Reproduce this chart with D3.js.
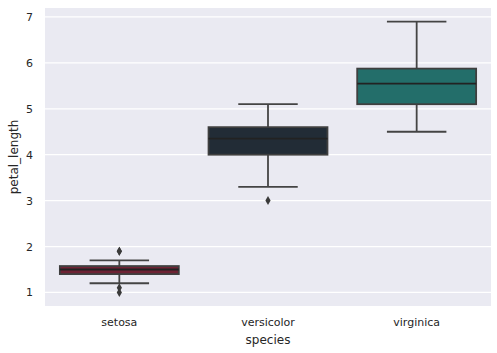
<!DOCTYPE html>
<html>
<head>
<meta charset="utf-8">
<script src="https://cdn.jsdelivr.net/npm/d3@7"></script>
<style>
  body { margin: 0; background: #fff; }
  text { font-family: "DejaVu Sans", sans-serif; fill: #262626; }
</style>
</head>
<body>
<div id="chart"></div>
<script>
// box statistics (iris petal_length)
var species = ["setosa", "versicolor", "virginica"];
var q1 = [1.4, 4.0, 5.1];
var medians = [1.5, 4.35, 5.55];
var q3 = [1.575, 4.6, 5.875];
var whiskerLow = [1.2, 3.3, 4.5];
var whiskerHigh = [1.7, 5.1, 6.9];
var outliers = [[1.0, 1.1, 1.9, 1.9], [3.0], []];
var fills = ["#6e2334", "#222c36", "#236e6a"];
var yTicks = [1, 2, 3, 4, 5, 6, 7];

var margin = {top: 8, right: 6, bottom: 47, left: 45},
    width = 497 - margin.left - margin.right,
    height = 353 - margin.top - margin.bottom;

var svg = d3.select("#chart")
    .append("svg")
    .attr("width", 497)
    .attr("height", 353)
    .append("g")
    .attr("transform", "translate(" + margin.left + "," + margin.top + ")");

var x = d3.scaleBand()
    .domain(species)
    .range([0, width]);

var y = d3.scaleLinear()
    .domain([0.705, 7.195])
    .range([height, 0]);

// background + grid
svg.append("rect")
    .attr("width", width)
    .attr("height", height)
    .attr("fill", "#eaeaf2");

svg.selectAll(".grid")
    .data(yTicks)
    .enter()
    .append("line")
    .attr("x1", 0)
    .attr("x2", width)
    .attr("y1", function (d) { return y(d); })
    .attr("y2", function (d) { return y(d); })
    .attr("stroke", "#fff")
    .attr("stroke-width", 1.2);

var yAxis = svg.append("g")
    .call(d3.axisLeft(y).tickValues(yTicks).tickSize(0).tickPadding(12).tickFormat(d3.format("d")));
yAxis.select(".domain").remove();
yAxis.selectAll("text").style("font-size", "11px").attr("fill", "#262626");

var xAxis = svg.append("g")
    .attr("transform", "translate(0," + height + ")")
    .call(d3.axisBottom(x).tickSize(0).tickPadding(12));
xAxis.select(".domain").remove();
xAxis.selectAll("text").style("font-size", "11px").attr("fill", "#262626");

svg.append("text")
    .attr("x", width / 2)
    .attr("y", height + 38)
    .attr("text-anchor", "middle")
    .style("font-size", "12px")
    .text("species");

svg.append("text")
    .attr("transform", "translate(" + (-27) + "," + (height / 2) + ") rotate(-90)")
    .attr("text-anchor", "middle")
    .style("font-size", "12px")
    .text("petal_length");

var line = "#444444";
var boxW = x.bandwidth() * 0.8;

var boxes = svg.selectAll(".box")
    .data(species)
    .enter()
    .append("g")
    .attr("transform", function (d) { return "translate(" + (x(d) + x.bandwidth() / 2) + ",0)"; });

// whiskers
boxes.append("line")
    .attr("y1", function (d, i) { return y(whiskerLow[i]); })
    .attr("y2", function (d, i) { return y(q1[i]); })
    .attr("stroke", line).attr("stroke-width", 1.8);
boxes.append("line")
    .attr("y1", function (d, i) { return y(q3[i]); })
    .attr("y2", function (d, i) { return y(whiskerHigh[i]); })
    .attr("stroke", line).attr("stroke-width", 1.8);

// caps
[whiskerLow, whiskerHigh].forEach(function (arr) {
    boxes.append("line")
        .attr("x1", -boxW / 4)
        .attr("x2", boxW / 4)
        .attr("y1", function (d, i) { return y(arr[i]); })
        .attr("y2", function (d, i) { return y(arr[i]); })
        .attr("stroke", line).attr("stroke-width", 1.8);
});

boxes.append("rect")
    .attr("x", -boxW / 2)
    .attr("width", boxW)
    .attr("y", function (d, i) { return y(q3[i]); })
    .attr("height", function (d, i) { return y(q1[i]) - y(q3[i]); })
    .attr("fill", function (d, i) { return fills[i]; })
    .attr("stroke", "#3f3f3f")
    .attr("stroke-width", 1.8);

boxes.append("line")
    .attr("x1", -boxW / 2)
    .attr("x2", boxW / 2)
    .attr("y1", function (d, i) { return y(medians[i]); })
    .attr("y2", function (d, i) { return y(medians[i]); })
    .attr("stroke", "#222222").attr("stroke-width", 1.8);

// outlier diamonds
boxes.each(function (d, i) {
    d3.select(this).selectAll("path")
        .data(outliers[i])
        .enter()
        .append("path")
        .attr("d", "M0,-4.5L2.6,0L0,4.5L-2.6,0Z")
        .attr("transform", function (v) { return "translate(0," + y(v) + ")"; })
        .attr("fill", "#3a3a3a");
});
</script>
</body>
</html>
